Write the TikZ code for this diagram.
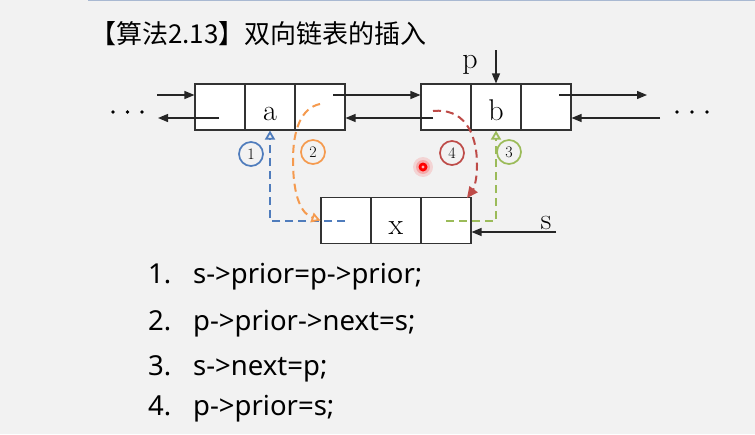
\documentclass[tikz,border=0pt]{standalone}
\usepackage{fontspec}
\newfontfamily\cjk{Noto Sans CJK SC}
\newfontfamily\codefont{Noto Sans}
\usetikzlibrary{arrows.meta}
\definecolor{bg}{HTML}{F2F2F2}
\definecolor{topline}{HTML}{A9B9D2}
\definecolor{cblue}{HTML}{4F7CBC}
\definecolor{corange}{HTML}{F59A4E}
\definecolor{cred}{HTML}{BE4B48}
\definecolor{cgreen}{HTML}{9BBB59}
\definecolor{edge}{HTML}{333333}
\tikzset{
  cell/.style={draw=edge, fill=white, line width=1.1pt, minimum width=50pt, minimum height=46pt, inner sep=0pt},
  letter/.style={anchor=base, inner sep=0pt, font=\fontsize{30}{30}\selectfont},
  ptr/.style={draw=black!85, line width=1.2pt, -{Triangle[length=10pt,width=8pt]}},
  dsh/.style={line width=2pt, dash pattern=on 8pt off 5pt},
  opentip/.style={-{Triangle[open,length=9pt,width=10pt,line width=1.8pt]}},
  numc/.style={circle, line width=1.7pt, minimum size=24pt, inner sep=0pt, fill=bg, font=\fontsize{16}{16}\selectfont},
  dotc/.style={circle, fill=black, inner sep=0pt, minimum size=3.6pt},
  code/.style={anchor=base west, inner sep=0pt, font=\codefont\fontsize{27.5}{30}\selectfont},
}
\begin{document}
\begin{tikzpicture}[x=1pt,y=-1pt]
\fill[bg] (0,0) rectangle (755,434);
\useasboundingbox (0,0) rectangle (755,434);
\draw[topline, line width=1.5pt] (88,0.5) -- (755,0.5);

% title
\node[anchor=base west, inner sep=0pt, font=\cjk\fontsize{26}{30}\selectfont] (title) at (90,43) {【算法2.13】双向链表的插入};

% cells
\node[cell] (a1) at (220,107) {};
\node[cell] (a2) at (270,107) {};
\node[cell] (a3) at (320,107) {};
\node[cell] (b1) at (446,107) {};
\node[cell] (b2) at (496,107) {};
\node[cell] (b3) at (546,107) {};
\node[cell] (x1) at (346,220.5) {};
\node[cell] (x2) at (396,220.5) {};
\node[cell] (x3) at (446,220.5) {};

\node[letter] (la) at (270,120) {a};
\node[letter] (lb) at (496,120) {b};
\node[letter] (lx) at (396,234) {x};
\node[letter] (lp) at (470,68) {p};
\node[letter] (ls) at (546,229) {s};

% ellipsis dots
\node[dotc] (dl1) at (113,112) {};
\node[dotc] (dl2) at (127.5,112) {};
\node[dotc] (dl3) at (142,112) {};
\node[dotc] (dr1) at (677,112) {};
\node[dotc] (dr2) at (692,112) {};
\node[dotc] (dr3) at (707,112) {};

% solid pointers
\coordinate (lin) at (157,95);
\draw[ptr] (lin) -- (lin -| a1.west);
\coordinate (lout0) at (219,118);
\coordinate (lout1) at (158,118);
\draw[ptr] (lout0) -- (lout1);
\coordinate (anx) at (333,95);
\draw[ptr] (anx) -- (anx -| b1.west);
\coordinate (bpr) at (433,118);
\draw[ptr] (bpr) -- (bpr -| a3.east);
\coordinate (bnx0) at (559,95);
\coordinate (bnx1) at (647,95);
\draw[ptr] (bnx0) -- (bnx1);
\coordinate (rin) at (660,118);
\draw[ptr] (rin) -- (rin -| b3.east);
\coordinate (pp) at (496,50);
\draw[ptr] (pp) -- (b2.north);
\coordinate (ss) at (556,232);
\draw[ptr] (ss) -- (ss -| x3.east);

% dashed steps
\coordinate (s1) at (345,221);
\draw[cblue, dsh, opentip] (s1) -- (s1 -| a2.south) -- (a2.south);
\coordinate (s2) at (320,104);
\draw[corange, dsh, opentip] (s2) .. controls (301,108) and (293,130) .. (293,160) .. controls (293,198) and (302,214) .. (x1.west);
\coordinate (s4) at (433,111);
\coordinate (e4) at (467,198);
\draw[cred, dsh, -{Triangle[length=11pt,width=10pt]}] (s4) .. controls (462,108) and (477,130) .. (477,165) .. controls (477,182) and (473,190) .. (e4);
\coordinate (s3) at (446,221);
\draw[cgreen, dsh, opentip] (s3) -- (s3 -| b2.south) -- (b2.south);

\node[numc, draw=cblue] (c1) at (251,154) {1};
\node[numc, draw=corange] (c2) at (313,152) {2};
\node[numc, draw=cred] (c4) at (452,153) {4};
\node[numc, draw=cgreen] (c3) at (509,152) {3};

% laser pointer dot
\fill[red, opacity=0.12] (423,167) circle (10pt);
\fill[red, opacity=0.2] (423,167) circle (7pt);
\fill[red] (423,167) circle (4.5pt);
\fill[white!70!red] (423,167) circle (1.6pt);

% code lines
\node[code] (n1) at (148,283) {1.};
\node[code] (t1) at (193,283) {s->prior=p->prior;};
\node[code] (n2) at (148,330) {2.};
\node[code] (t2) at (193,330) {p->prior->next=s;};
\node[code] (n3) at (148,375) {3.};
\node[code] (t3) at (193,375) {s->next=p;};
\node[code] (n4) at (148,415) {4.};
\node[code] (t4) at (193,415) {p->prior=s;};
\end{tikzpicture}
\end{document}
